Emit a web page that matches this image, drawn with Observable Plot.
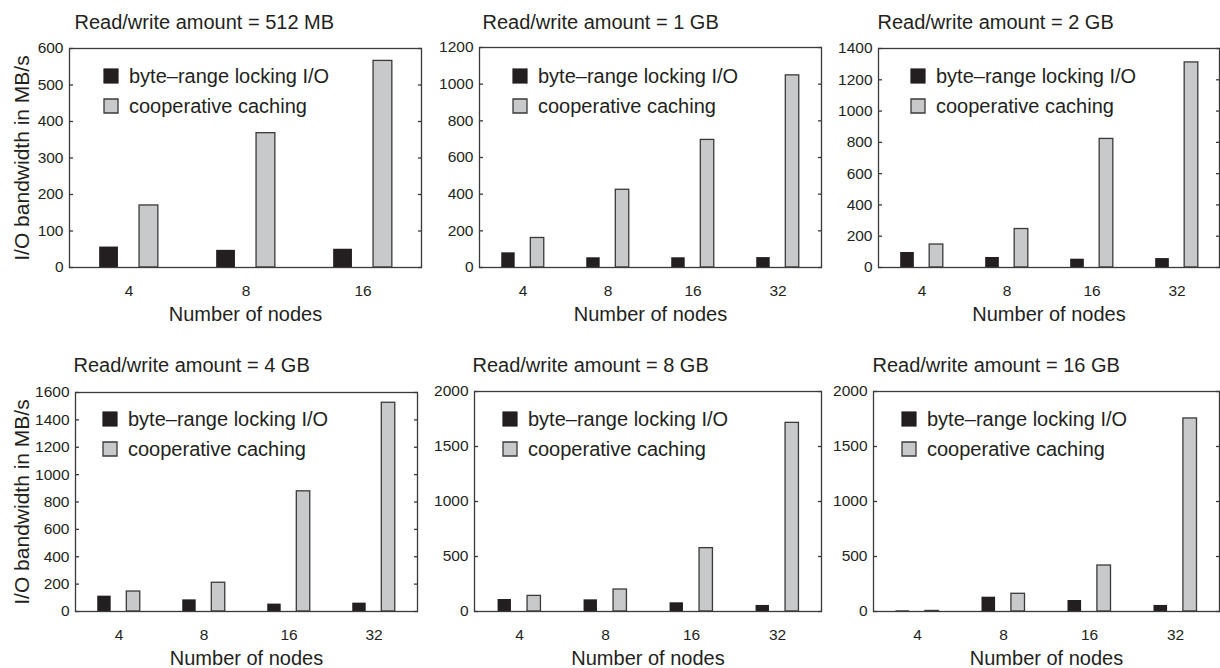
<!DOCTYPE html>
<html>
<head>
<meta charset="utf-8">
<script src="https://cdn.jsdelivr.net/npm/d3@7"></script>
<script src="https://cdn.jsdelivr.net/npm/@observablehq/plot@0.6"></script>
<style>
  body { margin: 0; background: #ffffff; }
  #wrap { position: relative; width: 1220px; height: 668px; overflow: hidden; background: #ffffff;
          font-family: "Liberation Sans", Arial, Helvetica, sans-serif; }
  .cell { position: absolute; }
</style>
</head>
<body>
<div id="wrap"></div>
<script>
// ---------------- data ----------------
const series = ["byte–range locking I/O", "cooperative caching"];
const amounts = ["512 MB", "1 GB", "2 GB", "4 GB", "8 GB", "16 GB"];
const xLabel = "Number of nodes";
const yLabel = "I/O bandwidth in MB/s";

const nodesSmall = [4, 8, 16];
const nodesLarge = [4, 8, 16, 32];

const lock512MB = [56, 47, 50];
const coop512MB = [170, 368, 566];
const lock1GB = [80, 53, 53, 54];
const coop1GB = [161, 424, 696, 1048];
const lock2GB = [96, 64, 53, 57];
const coop2GB = [147, 246, 822, 1311];
const lock4GB = [112, 85, 54, 61];
const coop4GB = [146, 210, 878, 1525];
const lock8GB = [109, 106, 79, 55];
const coop8GB = [142, 200, 576, 1715];
const lock16GB = [6, 130, 100, 55];
const coop16GB = [5, 161, 418, 1755];

const yTicks512MB = [0, 100, 200, 300, 400, 500, 600];
const yTicks1GB = [0, 200, 400, 600, 800, 1000, 1200];
const yTicks2GB = [0, 200, 400, 600, 800, 1000, 1200, 1400];
const yTicks4GB = [0, 200, 400, 600, 800, 1000, 1200, 1400, 1600];
const yTicks8GB = [0, 500, 1000, 1500, 2000];
const yTicks16GB = [0, 500, 1000, 1500, 2000];

// ---------------- styling / layout ----------------
const ink = "#231f20";
const edge = "#3a3a3a";
const grayFill = "#c8c9cb";
const font = "'Liberation Sans', Arial, Helvetica, sans-serif";

const panels = [
  {amount: amounts[0], nodes: nodesSmall, lock: lock512MB, coop: coop512MB, ticks: yTicks512MB,
   left: 0, top: 0, width: 425, height: 330, ml: 69, mr: 4, mt: 48, mb: 63,
   titleDx: 5, titleDy: -20, legDx: 34, legDy: 20, yLab: true, yLabDx: -47.5},
  {amount: amounts[1], nodes: nodesLarge, lock: lock1GB, coop: coop1GB, ticks: yTicks1GB,
   left: 425, top: 0, width: 400, height: 330, ml: 54, mr: 4, mt: 47, mb: 63,
   titleDx: 3, titleDy: -19, legDx: 33, legDy: 21, yLab: false},
  {amount: amounts[2], nodes: nodesLarge, lock: lock2GB, coop: coop2GB, ticks: yTicks2GB,
   left: 825, top: 0, width: 395, height: 330, ml: 53, mr: 1, mt: 48, mb: 63,
   titleDx: -1, titleDy: -20, legDx: 32, legDy: 20, yLab: false},
  {amount: amounts[3], nodes: nodesLarge, lock: lock4GB, coop: coop4GB, ticks: yTicks4GB,
   left: 0, top: 330, width: 425, height: 338, ml: 75, mr: 8, mt: 62, mb: 57,
   titleDx: -2, titleDy: -21, legDx: 27, legDy: 19, yLab: true, yLabDx: -53.5},
  {amount: amounts[4], nodes: nodesLarge, lock: lock8GB, coop: coop8GB, ticks: yTicks8GB,
   left: 425, top: 330, width: 400, height: 338, ml: 49, mr: 4, mt: 61, mb: 57,
   titleDx: -2, titleDy: -20, legDx: 28, legDy: 20, yLab: false},
  {amount: amounts[5], nodes: nodesLarge, lock: lock16GB, coop: coop16GB, ticks: yTicks16GB,
   left: 825, top: 330, width: 395, height: 338, ml: 48, mr: 1, mt: 61, mb: 57,
   titleDx: -1, titleDy: -20, legDx: 28, legDy: 20, yLab: false}
];

const wrap = document.getElementById("wrap");

for (const p of panels) {
  const rows = p.nodes.map((n, i) => ({nodes: n, series: series[0], value: p.lock[i]}))
    .concat(p.nodes.map((n, i) => ({nodes: n, series: series[1], value: p.coop[i]})));
  const lockRows = rows.filter(d => d.series === series[0]);
  const coopRows = rows.filter(d => d.series === series[1]);
  const band = (p.width - p.ml - p.mr) / p.nodes.length;
  const yMax = p.ticks[p.ticks.length - 1];

  const marks = [
    Plot.barY(lockRows, {x: "nodes", y: "value", fill: ink,
      insetLeft: 0.2485 * band, insetRight: 0.5885 * band}),
    Plot.barY(coopRows, {x: "nodes", y: "value", fill: grayFill, stroke: edge, strokeWidth: 1.3,
      insetLeft: 0.5885 * band, insetRight: 0.2485 * band}),
    Plot.frame({stroke: edge, strokeWidth: 1.3}),
    Plot.axisY({anchor: "left", ticks: p.ticks, tickSize: 0, tickPadding: 6, fontSize: 15.5,
      tickFormat: d3.format("d"), label: null}),
    Plot.axisY({anchor: "left", ticks: p.ticks, tickSize: 4, dx: 4, text: null, label: null, stroke: edge, strokeWidth: 1.3}),
    Plot.axisY({anchor: "right", ticks: p.ticks, tickSize: 4, dx: -4, text: null, label: null, stroke: edge, strokeWidth: 1.3}),
    Plot.axisX({anchor: "bottom", tickSize: 0, tickPadding: 17, fontSize: 15.5, label: null}),
    // legend
    Plot.dot([series[0]], {frameAnchor: "top-left", dx: p.legDx + 7.5, dy: p.legDy + 7.5,
      symbol: "square", r: 8.2, fill: ink, stroke: ink, strokeWidth: 0.6}),
    Plot.dot([series[1]], {frameAnchor: "top-left", dx: p.legDx + 7.5, dy: p.legDy + 37.5,
      symbol: "square", r: 7.9, fill: grayFill, stroke: edge, strokeWidth: 1.3}),
    Plot.text([series[0]], {frameAnchor: "top-left", dx: p.legDx + 25.5, dy: p.legDy + 8.5,
      text: d => d, textAnchor: "start", lineAnchor: "middle", fontSize: 20, fill: ink}),
    Plot.text([series[1]], {frameAnchor: "top-left", dx: p.legDx + 25.5, dy: p.legDy + 38.5,
      text: d => d, textAnchor: "start", lineAnchor: "middle", fontSize: 20, fill: ink}),
    // title
    Plot.text([`Read/write amount = ${p.amount}`], {frameAnchor: "top-left", dx: p.titleDx, dy: p.titleDy,
      text: d => d, textAnchor: "start", lineAnchor: "bottom", fontSize: 20, fill: ink}),
    // x label
    Plot.text([xLabel], {frameAnchor: "bottom", dy: 53, text: d => d, textAnchor: "middle",
      lineAnchor: "bottom", fontSize: 20, fill: ink})
  ];
  if (p.yLab) {
    marks.push(Plot.text([yLabel], {frameAnchor: "left", dx: p.yLabDx, rotate: -90, text: d => d,
      textAnchor: "middle", lineAnchor: "middle", fontSize: 21, fill: ink}));
  }

  const svg = Plot.plot({
    width: p.width,
    height: p.height,
    marginLeft: p.ml,
    marginRight: p.mr,
    marginTop: p.mt,
    marginBottom: p.mb,
    style: {fontFamily: font, color: ink, background: "transparent", overflow: "visible"},
    x: {type: "band", domain: p.nodes, padding: 0, axis: null},
    y: {domain: [0, yMax], axis: null},
    marks
  });
  const cell = document.createElement("div");
  cell.className = "cell";
  cell.style.left = p.left + "px";
  cell.style.top = p.top + "px";
  cell.style.width = p.width + "px";
  cell.style.height = p.height + "px";
  cell.appendChild(svg);
  wrap.appendChild(cell);
}
</script>
</body>
</html>
